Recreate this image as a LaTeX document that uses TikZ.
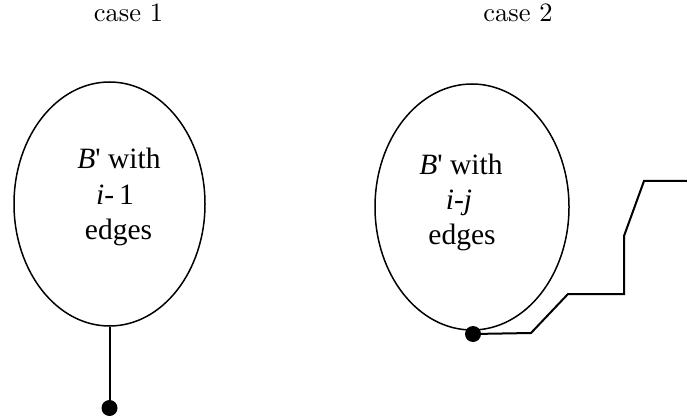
\documentclass[tikz,border=0pt]{standalone}
\usepackage{fontspec}
\newfontfamily\timesfont{Liberation Serif}
\newfontfamily\lmten{lmroman10-regular.otf}
\usetikzlibrary{shapes.geometric}
\begin{document}
\begin{tikzpicture}[x=1pt,y=-1pt,
  blob/.style={draw, ellipse, inner sep=0pt, line width=1.5pt},
  dotnode/.style={circle, fill=black, inner sep=0pt, minimum size=16pt},
  wire/.style={line width=2pt},
  caselabel/.style={anchor=base, inner sep=0pt, font=\lmten\fontsize{26.5}{30}\selectfont},
  intext/.style={anchor=base, inner sep=0pt, font=\timesfont\fontsize{29.5}{34}\selectfont}]
\useasboundingbox (0,0) rectangle (687,419);
\node[caselabel] (c1) at (128.5,22) {case 1};
\node[caselabel] (c2) at (518,22) {case 2};
% case 1
\node[blob, minimum width=191pt, minimum height=244pt] (L) at (109.5,204) {};
\node[intext] (l1) at (119,169) {\textit{B}' with};
\node[intext] (l2) at (115,205) {\textit{i}-\,1};
\node[intext] (l3) at (118.5,240) {edges};
\node[dotnode] (ld) at (109.5,408) {};
\draw[wire] (L.south) -- (ld.center);
% case 2
\node[blob, minimum width=194pt, minimum height=246pt] (R) at (472,207) {};
\node[intext] (r1) at (461,175) {\textit{B}' with};
\node[intext] (r2) at (459,210) {\textit{i}-\textit{j}};
\node[intext] (r3) at (462,245) {edges};
\node[dotnode] (rd) at (473,334) {};
\coordinate (re) at (687,181);
\draw[wire] (rd.center) -- (531,333) -- (568,294) -- (624,294) -- (624,236) -- (644,181) -- (re);
\end{tikzpicture}
\end{document}
